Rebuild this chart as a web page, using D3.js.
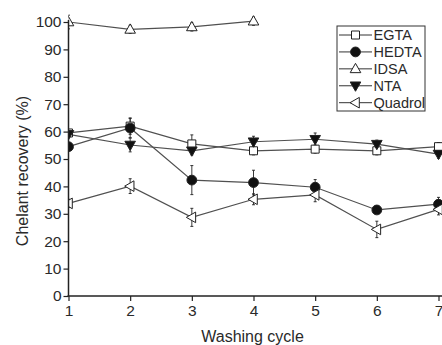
<!DOCTYPE html>
<html>
<head>
<meta charset="utf-8">
<script src="https://cdn.jsdelivr.net/npm/d3@7"></script>
<style>
  html, body { margin: 0; padding: 0; background: #fff; }
  svg { display: block; font-family: "Liberation Sans", Arial, sans-serif; }
</style>
</head>
<body>
<svg id="chart" width="442" height="345"></svg>
<script>
// ---- data ----
const cycles = [1, 2, 3, 4, 5, 6, 7];
const seriesNames = ["EGTA", "HEDTA", "IDSA", "NTA", "Quadrol"];
const egta    = [59.5, 62.0, 55.5, 53.0, 53.6, 53.0, 54.5];
const egtaErr = [1.0, 3.0, 3.3, 1.5, 1.5, 1.5, 1.5];
const hedta    = [54.5, 61.3, 42.3, 41.4, 39.7, 31.4, 33.5];
const hedtaErr = [1.0, 3.5, 5.3, 4.5, 2.8, 1.0, 2.5];
const idsa    = [100.0, 97.3, 98.2, 100.3];
const idsaErr = [2.5, 1.5, 1.5, 1.5];
const nta    = [59.0, 55.1, 53.0, 56.3, 57.2, 55.4, 51.8];
const ntaErr = [1.0, 2.5, 1.5, 2.0, 2.3, 1.5, 1.5];
const quadrol    = [33.8, 40.1, 28.7, 35.3, 36.9, 24.3, 31.6];
const quadrolErr = [1.5, 2.7, 3.3, 2.0, 2.5, 3.0, 2.0];
const yTicks = [0, 10, 20, 30, 40, 50, 60, 70, 80, 90, 100];
const xLabel = "Washing cycle";
const yLabel = "Chelant recovery (%)";

const series = [
  { name: "EGTA",    values: egta,    err: egtaErr,    shape: "square",  fill: "#fff" },
  { name: "HEDTA",   values: hedta,   err: hedtaErr,   shape: "circle",  fill: "#111" },
  { name: "IDSA",    values: idsa,    err: idsaErr,    shape: "triUp",   fill: "#fff" },
  { name: "NTA",     values: nta,     err: ntaErr,     shape: "triDown", fill: "#111" },
  { name: "Quadrol", values: quadrol, err: quadrolErr, shape: "triLeft", fill: "#fff" }
];

// ---- layout ----
const svg = d3.select("#chart");
const W = 442, H = 345;
const x = d3.scaleLinear().domain([1, 7]).range([68.5, 438.5]);
const y = d3.scaleLinear().domain([0, 100]).range([296, 22]);

const axisColor = "#222";
const textColor = "#2a2a2a";

// clip to plot area (markers at x=1 are cut by the y axis)
svg.append("defs").append("clipPath").attr("id", "plotclip")
  .append("rect").attr("x", x(1)).attr("y", 0).attr("width", W - x(1)).attr("height", y(0));

function markerPath(shape) {
  const p = d3.path();
  if (shape === "square") { const s = 4; p.rect(-s, -s, 2 * s, 2 * s); }
  else if (shape === "circle") { p.arc(0, 0, 4.9, 0, 2 * Math.PI); p.closePath(); }
  else if (shape === "triUp") { p.moveTo(0, -5.5); p.lineTo(5.3, 3.8); p.lineTo(-5.3, 3.8); p.closePath(); }
  else if (shape === "triDown") { p.moveTo(0, 5.5); p.lineTo(5.3, -3.8); p.lineTo(-5.3, -3.8); p.closePath(); }
  else if (shape === "triLeft") { p.moveTo(-5.5, 0); p.lineTo(3.8, -5.3); p.lineTo(3.8, 5.3); p.closePath(); }
  return p.toString();
}

const plot = svg.append("g").attr("clip-path", "url(#plotclip)");
const line = d3.line().x((d, i) => x(cycles[i])).y(d => y(d));

// lines
series.forEach(s => {
  plot.append("path").datum(s.values)
    .attr("d", line)
    .attr("fill", "none")
    .attr("stroke", "#505050")
    .attr("stroke-width", 1.2);
});

// error bars
series.forEach(s => {
  const g = plot.append("g").attr("stroke", "#222").attr("stroke-width", 0.9);
  s.values.forEach((v, i) => {
    const cx = x(cycles[i]), e = s.err[i];
    g.append("line").attr("x1", cx).attr("x2", cx).attr("y1", y(v + e)).attr("y2", y(v - e));
    g.append("line").attr("x1", cx - 1.5).attr("x2", cx + 1.5).attr("y1", y(v + e)).attr("y2", y(v + e));
    g.append("line").attr("x1", cx - 1.5).attr("x2", cx + 1.5).attr("y1", y(v - e)).attr("y2", y(v - e));
  });
});

// markers
series.forEach(s => {
  plot.append("g").selectAll("path").data(s.values).join("path")
    .attr("transform", (d, i) => `translate(${x(cycles[i])},${y(d)})`)
    .attr("d", markerPath(s.shape))
    .attr("fill", s.fill)
    .attr("stroke", "#222")
    .attr("stroke-width", 1);
});

// axes
const xAxis = d3.axisBottom(x).tickValues(cycles).tickFormat(d3.format("d")).tickSize(5).tickPadding(4);
const gx = svg.append("g").attr("transform", `translate(0,${y(0)})`).call(xAxis);
gx.select(".domain").remove();
gx.append("line").attr("x1", x(1) - 1).attr("x2", W).attr("y1", 0).attr("y2", 0)
  .attr("stroke", axisColor).attr("stroke-width", 1.5);

const yAxis = d3.axisLeft(y).tickValues(yTicks).tickSize(5).tickPadding(2);
const gy = svg.append("g").attr("transform", `translate(${x(1)},0)`).call(yAxis);
gy.select(".domain").remove();
gy.append("line").attr("x1", 0).attr("x2", 0).attr("y1", y(0)).attr("y2", y(100) - 2)
  .attr("stroke", axisColor).attr("stroke-width", 1.5);

[gx, gy].forEach(g => {
  g.selectAll(".tick line").attr("stroke", axisColor).attr("stroke-width", 1.2);
  g.selectAll(".tick text").attr("fill", textColor).style("font-size", "15.5px")
    .style("font-family", "'Liberation Sans', Arial, sans-serif");
});

// axis titles
svg.append("text").attr("x", (x(1) + x(7)) / 2 - 1).attr("y", 342)
  .attr("text-anchor", "middle").attr("fill", textColor)
  .style("font-size", "16px").text(xLabel);
svg.append("text").attr("transform", `translate(28,${(y(0) + y(100)) / 2 + 12}) rotate(-90)`)
  .attr("text-anchor", "middle").attr("fill", textColor)
  .style("font-size", "16px").text(yLabel);

// legend
const legend = svg.append("g");
const lx = 337, ly = 26, lw = 88, lh = 85;
legend.append("rect").attr("x", lx).attr("y", ly).attr("width", lw).attr("height", lh)
  .attr("fill", "#fff").attr("stroke", "#333").attr("stroke-width", 1);
const ly0 = d3.scalePoint().domain(seriesNames).range([35, 102.7]);
series.forEach(s => {
  const yy = ly0(s.name);
  legend.append("line").attr("x1", lx + 2).attr("x2", lx + 35).attr("y1", yy).attr("y2", yy)
    .attr("stroke", "#333").attr("stroke-width", 1);
  legend.append("path").attr("transform", `translate(${lx + 18.5},${yy})`)
    .attr("d", markerPath(s.shape)).attr("fill", s.fill).attr("stroke", "#222").attr("stroke-width", 1);
  legend.append("text").attr("x", lx + 36.5).attr("y", yy).attr("dy", "0.35em")
    .attr("fill", textColor).style("font-size", "14.5px").text(s.name);
});
</script>
</body>
</html>
